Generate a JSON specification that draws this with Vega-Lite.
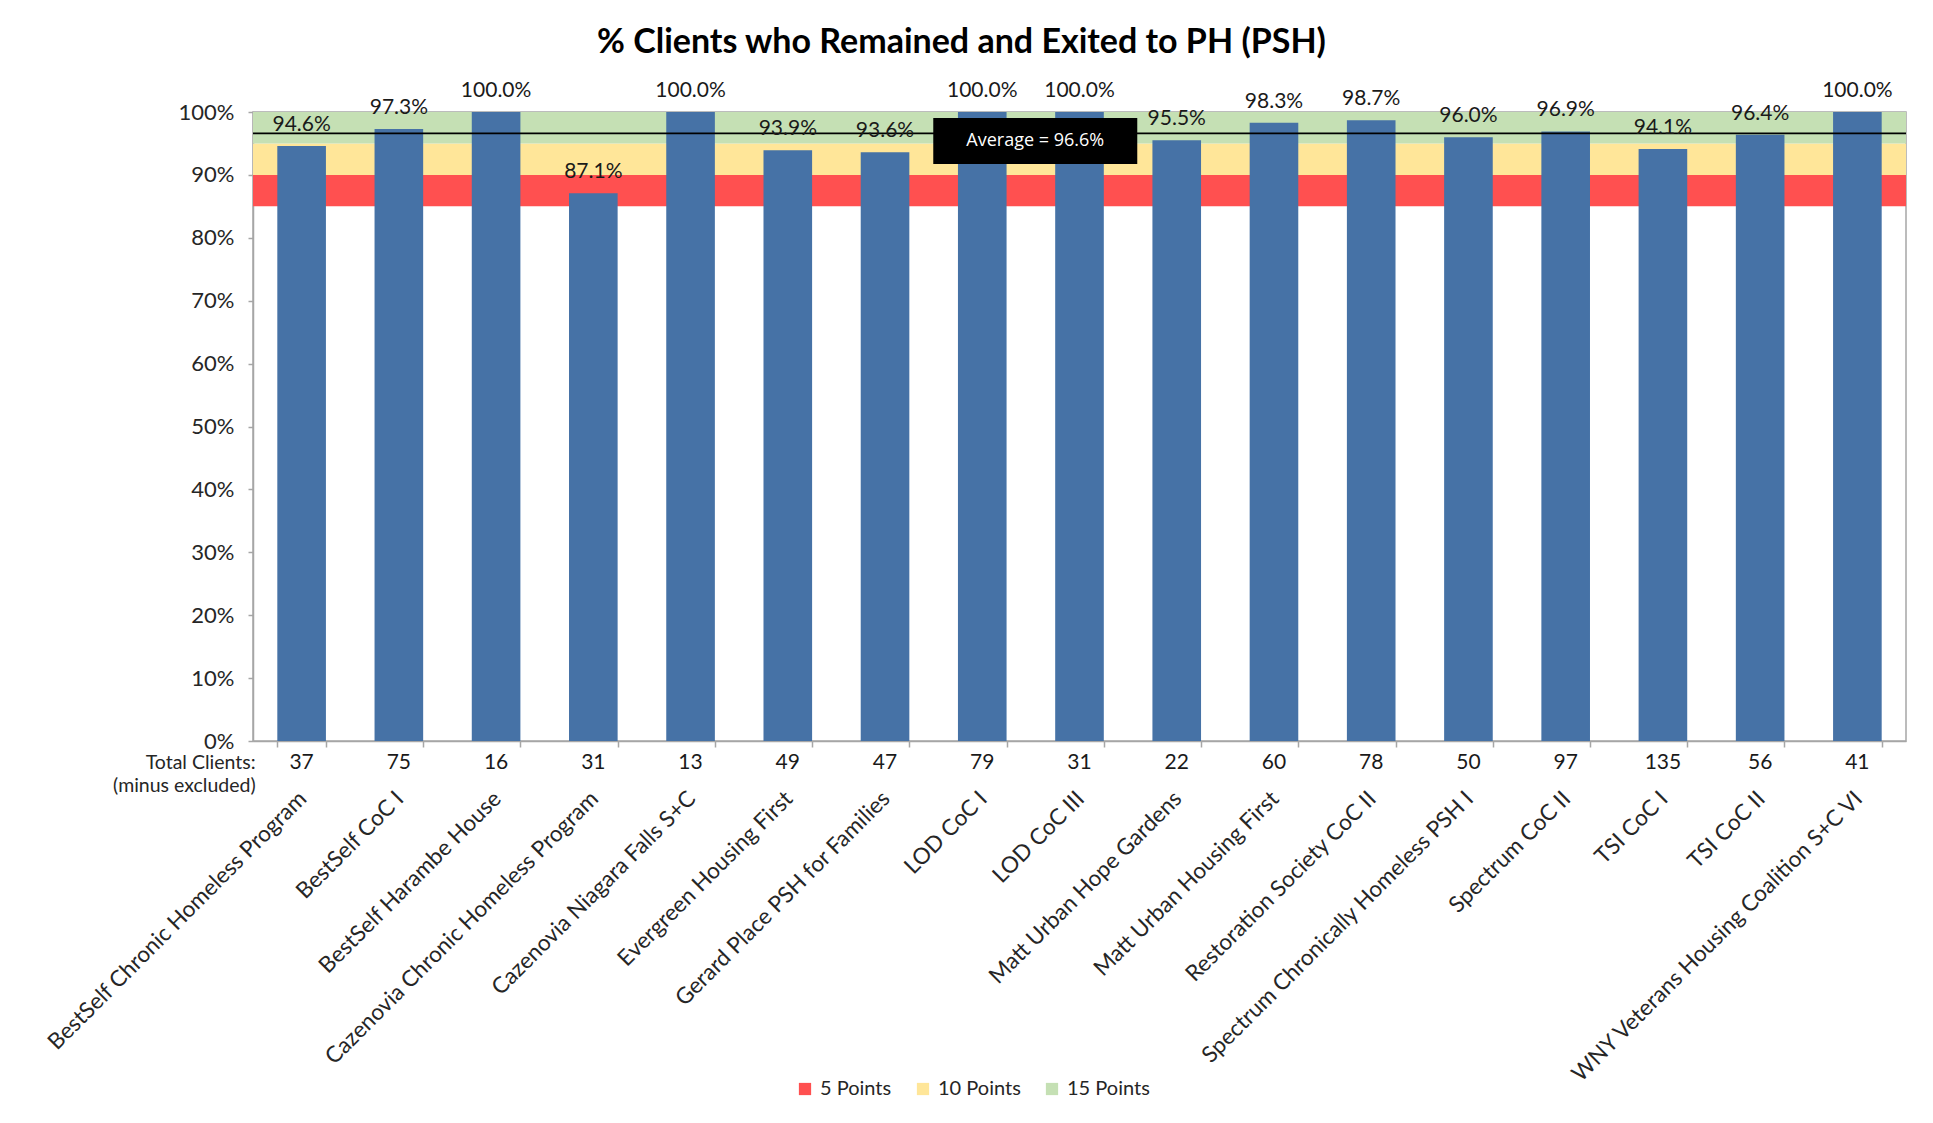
{
  "$schema": "https://vega.github.io/schema/vega-lite/v6.json",
  "width": 1653,
  "height": 629,
  "autosize": {"type": "none"},
  "padding": {"left": 253, "top": 112, "right": 27, "bottom": 382},
  "background": "white",
  "title": {
    "text": "% Clients who Remained and Exited to PH (PSH)",
    "font": "Lato",
    "fontSize": 34,
    "fontWeight": "bold",
    "color": "#000000",
    "anchor": "middle",
    "dx": -118,
    "offset": 20
  },
  "config": {
    "view": {"stroke": "#A6A6A6", "strokeWidth": 1.5},
    "font": "Lato"
  },
  "datasets": {
    "programs": [
      {"name": "BestSelf Chronic Homeless Program", "pct": 94.6, "label": "94.6%", "clients": 37},
      {"name": "BestSelf CoC I", "pct": 97.3, "label": "97.3%", "clients": 75},
      {"name": "BestSelf Harambe House", "pct": 100.0, "label": "100.0%", "clients": 16},
      {"name": "Cazenovia Chronic Homeless Program", "pct": 87.1, "label": "87.1%", "clients": 31},
      {"name": "Cazenovia Niagara Falls S+C", "pct": 100.0, "label": "100.0%", "clients": 13},
      {"name": "Evergreen Housing First", "pct": 93.9, "label": "93.9%", "clients": 49},
      {"name": "Gerard Place PSH for Families", "pct": 93.6, "label": "93.6%", "clients": 47},
      {"name": "LOD CoC I", "pct": 100.0, "label": "100.0%", "clients": 79},
      {"name": "LOD CoC III", "pct": 100.0, "label": "100.0%", "clients": 31},
      {"name": "Matt Urban Hope Gardens", "pct": 95.5, "label": "95.5%", "clients": 22},
      {"name": "Matt Urban Housing First", "pct": 98.3, "label": "98.3%", "clients": 60},
      {"name": "Restoration Society CoC II", "pct": 98.7, "label": "98.7%", "clients": 78},
      {"name": "Spectrum Chronically Homeless PSH I", "pct": 96.0, "label": "96.0%", "clients": 50},
      {"name": "Spectrum CoC II", "pct": 96.9, "label": "96.9%", "clients": 97},
      {"name": "TSI CoC I", "pct": 94.1, "label": "94.1%", "clients": 135},
      {"name": "TSI CoC II", "pct": 96.4, "label": "96.4%", "clients": 56},
      {"name": "WNY Veterans Housing Coalition S+C VI", "pct": 100.0, "label": "100.0%", "clients": 41}
    ],
    "bands": [
      {"band": "5 Points", "lo": 85, "hi": 90},
      {"band": "10 Points", "lo": 90, "hi": 95},
      {"band": "15 Points", "lo": 95, "hi": 100}
    ],
    "avg": [{"name": "LOD CoC I", "avg": 96.6, "text": "Average = 96.6%"}]
  },
  "layer": [
    {
      "data": {"name": "bands"},
      "mark": {"type": "rect"},
      "encoding": {
        "y": {"field": "lo", "type": "quantitative", "scale": {"domain": [0, 100], "nice": false}},
        "y2": {"field": "hi"},
        "color": {
          "field": "band",
          "type": "nominal",
          "scale": {"domain": ["5 Points", "10 Points", "15 Points"], "range": ["#FF5050", "#FFE699", "#C5E0B4"]},
          "legend": {
            "title": null,
            "orient": "none",
            "legendX": 542,
            "legendY": 967,
            "direction": "horizontal",
            "symbolType": "square",
            "symbolSize": 150,
            "symbolStrokeWidth": 0,
            "labelFont": "Lato",
            "labelFontSize": 20,
            "labelColor": "#262626",
            "labelOffset": 5,
            "columnPadding": 21,
            "padding": 0
          }
        }
      }
    },
    {
      "data": {"name": "programs"},
      "mark": {"type": "bar", "color": "#4672A6"},
      "encoding": {
        "x": {
          "field": "name",
          "type": "nominal",
          "sort": null,
          "scale": {"paddingInner": 0.5, "paddingOuter": 0.25},
          "axis": {
            "title": null,
            "labelAngle": -45,
            "labelAlign": "right",
            "labelBaseline": "top",
            "labelPadding": 40,
            "labelOffset": -7,
            "labelFont": "Lato",
            "labelFontSize": 22.5,
            "labelColor": "#262626",
            "labelLimit": 0,
            "tickBand": "extent",
            "tickSize": 6,
            "tickColor": "#A6A6A6",
            "tickWidth": 1.5,
            "domainColor": "#A6A6A6",
            "domainWidth": 1.5
          }
        },
        "y": {
          "field": "pct",
          "type": "quantitative",
          "scale": {"domain": [0, 100], "nice": false},
          "axis": {
            "title": null,
            "values": [0, 10, 20, 30, 40, 50, 60, 70, 80, 90, 100],
            "labelExpr": "datum.value + '%'",
            "labelFont": "Lato",
            "labelFontSize": 22,
            "labelColor": "#262626",
            "labelPadding": 14,
            "tickSize": 5,
            "tickColor": "#A6A6A6",
            "tickWidth": 1.5,
            "domainColor": "#A6A6A6",
            "domainWidth": 1.5,
            "grid": false
          }
        }
      }
    },
    {
      "data": {"name": "avg"},
      "mark": {"type": "rule", "color": "#000000", "strokeWidth": 1.75},
      "encoding": {"y": {"field": "avg", "type": "quantitative"}}
    },
    {
      "data": {"name": "programs"},
      "mark": {"type": "text", "font": "Lato", "fontSize": 21, "color": "#1a1a1a", "baseline": "alphabetic", "dy": -15},
      "encoding": {
        "x": {"field": "name", "type": "nominal", "sort": null},
        "y": {"field": "pct", "type": "quantitative"},
        "text": {"field": "label", "type": "nominal"}
      }
    },
    {
      "data": {"name": "programs"},
      "mark": {"type": "text", "font": "Lato", "fontSize": 21, "color": "#1a1a1a", "baseline": "middle", "dy": 22},
      "encoding": {
        "x": {"field": "name", "type": "nominal", "sort": null},
        "y": {"datum": 0},
        "text": {"field": "clients", "type": "nominal"}
      }
    },
    {
      "data": {"values": [{"name": "BestSelf Chronic Homeless Program"}]},
      "mark": {"type": "text", "font": "Lato", "fontSize": 19.5, "color": "#262626", "align": "right", "baseline": "middle", "dx": -46, "dy": 22, "lineHeight": 23},
      "encoding": {
        "x": {"field": "name", "type": "nominal", "sort": null},
        "y": {"datum": 0},
        "text": {"value": ["Total Clients:", "(minus excluded)"]}
      }
    },
    {
      "data": {"name": "avg"},
      "mark": {"type": "bar", "color": "#000000", "width": 204, "xOffset": 53},
      "encoding": {
        "x": {"field": "name", "type": "nominal", "sort": null},
        "y": {"datum": 99.05},
        "y2": {"datum": 91.73}
      }
    },
    {
      "data": {"name": "avg"},
      "mark": {"type": "text", "font": "Open Sans", "fontSize": 18, "color": "#FFFFFF", "align": "center", "baseline": "middle", "dx": 53},
      "encoding": {
        "x": {"field": "name", "type": "nominal", "sort": null},
        "y": {"datum": 95.4},
        "text": {"field": "text", "type": "nominal"}
      }
    }
  ]
}
